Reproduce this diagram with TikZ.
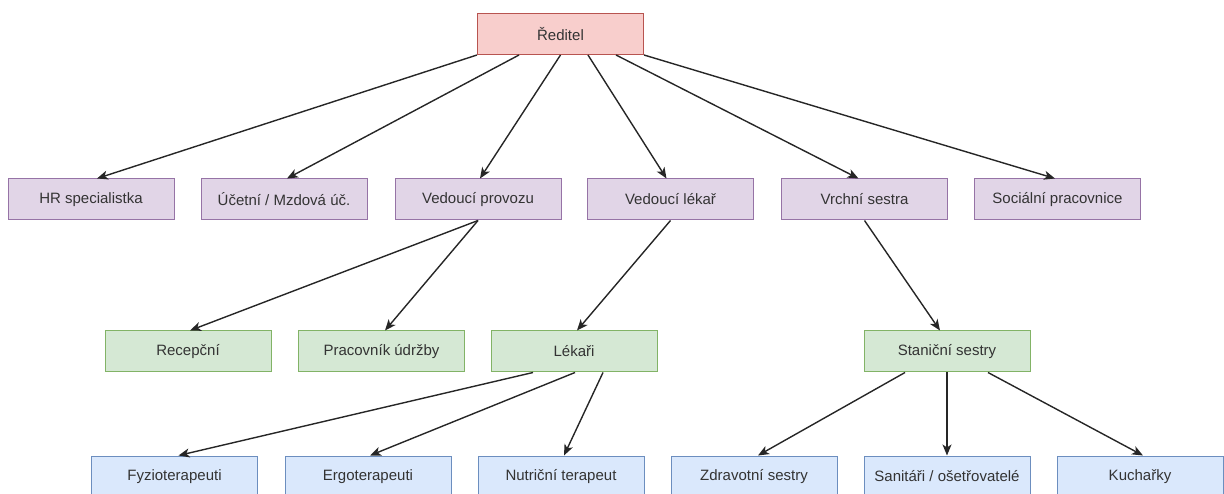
\documentclass[tikz,border=0pt]{standalone}
\usepackage{fontspec}
\setmainfont{Liberation Sans}
\usetikzlibrary{arrows.meta}
\definecolor{redF}{HTML}{F8CECC}\definecolor{redD}{HTML}{B85450}
\definecolor{purF}{HTML}{E1D5E7}\definecolor{purD}{HTML}{9673A6}
\definecolor{grnF}{HTML}{D5E8D4}\definecolor{grnD}{HTML}{82B366}
\definecolor{bluF}{HTML}{DAE8FC}\definecolor{bluD}{HTML}{6C8EBF}
\definecolor{txt}{HTML}{333333}
\tikzset{
  box/.style={draw, line width=1pt, minimum width=166pt, minimum height=41pt, inner sep=0pt,
    font=\fontsize{15pt}{18pt}\selectfont, text=txt},
  rbox/.style={box, fill=redF, draw=redD},
  pbox/.style={box, fill=purF, draw=purD},
  gbox/.style={box, fill=grnF, draw=grnD},
  bbox/.style={box, fill=bluF, draw=bluD},
  arr/.style={draw=black!85, line width=1.4pt, -{Stealth[length=11pt,width=9pt,inset=3pt]}}
}
\begin{document}
\begin{tikzpicture}[x=1pt,y=-1pt]
\useasboundingbox (0,0) rectangle (1224,494);
% level 1
\node[rbox] (r) at (560.5,34) {Ředitel};
% level 2
\node[pbox] (hr) at (91,199.5) {HR specialistka};
\node[pbox] (uc) at (284,199.5) {Účetní / Mzdová úč.};
\node[pbox] (vp) at (478,199.5) {Vedoucí provozu};
\node[pbox] (vl) at (670.5,199.5) {Vedoucí lékař};
\node[pbox] (vs) at (864.5,199.5) {Vrchní sestra};
\node[pbox] (sp) at (1057.5,199.5) {Sociální pracovnice};
% level 3
\node[gbox] (re) at (188,351.5) {Recepční};
\node[gbox] (pu) at (381.5,351.5) {Pracovník údržby};
\node[gbox] (le) at (574,351.5) {Lékaři};
\node[gbox] (ss) at (947,351.5) {Staniční sestry};
% level 4
\node[bbox] (fy) at (174.5,476.5) {Fyzioterapeuti};
\node[bbox] (er) at (368,476.5) {Ergoterapeuti};
\node[bbox] (nu) at (561,476.5) {Nutriční terapeut};
\node[bbox] (zs) at (754,476.5) {Zdravotní sestry};
\node[bbox] (so) at (947,476.5) {Sanitáři / ošetřovatelé};
\node[bbox] (ku) at (1140,476.5) {Kuchařky};
% edges level 1 -> 2
\draw[arr] (r.south west) -- ([xshift=6pt]hr.north);
\draw[arr] ([xshift=-41.5pt]r.south) -- ([xshift=3pt]uc.north);
\draw[arr] (r.south) -- ([xshift=2pt]vp.north);
\draw[arr] ([xshift=27.5pt]r.south) -- ([xshift=-4pt]vl.north);
\draw[arr] ([xshift=55.5pt]r.south) -- ([xshift=-6pt]vs.north);
\draw[arr] (r.south east) -- ([xshift=-2.5pt]sp.north);
% level 2 -> 3
\draw[arr] (vp.south) -- ([xshift=2pt]re.north);
\draw[arr] (vp.south) -- ([xshift=3.5pt]pu.north);
\draw[arr] (vl.south) -- ([xshift=3pt]le.north);
\draw[arr] (vs.south) -- ([xshift=-7pt]ss.north);
% level 3 -> 4
\draw[arr] ([xshift=-41pt]le.south) -- ([xshift=4pt]fy.north);
\draw[arr] ([xshift=1pt]le.south) -- ([xshift=2pt]er.north);
\draw[arr] ([xshift=29pt]le.south) -- ([xshift=3pt]nu.north);
\draw[arr] ([xshift=-42pt]ss.south) -- ([xshift=4pt]zs.north);
\draw[arr] (ss.south) -- (so.north);
\draw[arr] ([xshift=41pt]ss.south) -- ([xshift=3pt]ku.north);
\end{tikzpicture}
\end{document}
